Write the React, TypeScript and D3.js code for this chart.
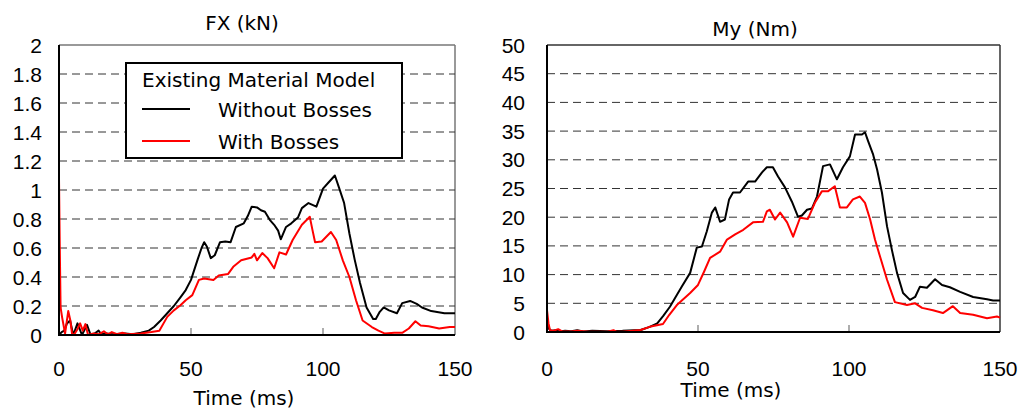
import React, { useEffect, useRef } from "react";
import * as d3 from "d3";

// time (ms), value pairs
const fxWithout: [number, number][] = [
  [0, 0], [1, 0.02], [2, 0.03], [3, 0.08], [4.2, 0.1], [5.4, 0], [7, 0.08], [8.7, 0], [10.6, 0.07], [12, 0],
  [13.5, 0.01], [15, 0.03], [16, 0.005], [18, 0.01], [20, 0.005], [25, 0.01], [28, 0.005], [31, 0.015],
  [34, 0.03], [36, 0.055], [38.5, 0.1], [41, 0.15], [43.5, 0.2], [46, 0.26], [48, 0.31], [50, 0.38],
  [52.5, 0.52], [54, 0.6], [55, 0.64], [56, 0.61], [57.5, 0.53], [59, 0.55], [61, 0.64], [63, 0.645],
  [65, 0.64], [67, 0.745], [70, 0.77], [71.5, 0.82], [73, 0.885], [75, 0.88], [76.5, 0.86], [78, 0.85],
  [80, 0.79], [81.5, 0.76], [83, 0.72], [84, 0.66], [86, 0.745], [88, 0.77], [90.5, 0.81], [92, 0.875],
  [94.5, 0.91], [97.5, 0.885], [100, 1.01], [102, 1.05], [104.5, 1.1], [106, 1.02], [108, 0.91], [110, 0.7],
  [112, 0.52], [114, 0.36], [116.5, 0.19], [119, 0.11], [120, 0.11], [121.5, 0.16], [123, 0.19], [125, 0.17],
  [128, 0.15], [130, 0.22], [133, 0.235], [135.5, 0.215], [137.5, 0.19], [141, 0.165], [146, 0.15], [150, 0.15],
];

const fxWith: [number, number][] = [
  [0, 1.08], [0.3, 0.6], [0.6, 0.19], [1.2, 0.12], [2.3, 0.01], [3.5, 0.165], [4.3, 0.1], [5, 0], [6, 0.01],
  [7, 0.04], [8, 0.08], [9, 0.03], [10, 0.075], [11, 0], [13, 0.01], [15, 0.005], [17, 0.025], [18.5, 0.005],
  [20, 0.02], [22, 0.005], [24, 0.015], [26, 0.005], [31, 0.01], [35, 0.02], [38, 0.03], [41, 0.125],
  [43.5, 0.17], [46, 0.205], [48, 0.24], [50.5, 0.275], [53, 0.38], [55, 0.39], [58.5, 0.38], [60.5, 0.41],
  [64, 0.42], [66, 0.47], [69, 0.515], [73, 0.535], [74, 0.56], [75, 0.515], [77, 0.565], [79, 0.53],
  [81.5, 0.46], [83.5, 0.57], [86, 0.555], [88.5, 0.655], [92, 0.76], [95, 0.815], [96, 0.725], [97, 0.64],
  [99.5, 0.645], [103, 0.71], [105, 0.655], [107.5, 0.515], [110, 0.4], [112.5, 0.24], [115, 0.1],
  [118.5, 0.055], [121, 0.03], [123.5, 0.01], [127, 0.015], [130, 0.015], [132.5, 0.045], [135, 0.095],
  [137, 0.065], [140, 0.06], [144, 0.045], [148, 0.055], [150, 0.055],
];

const myWithout: [number, number][] = [
  [0, 1.5], [0.5, 0.6], [1.5, 0.2], [3, 0.3], [4, 0.1], [6, 0.2], [8, 0.15], [10, 0.3], [12, 0.1], [15, 0.2],
  [20, 0.15], [25, 0.2], [31, 0.35], [34, 0.9], [36.5, 1.5], [38.5, 2.8], [40.7, 4.4], [42.5, 6], [44.6, 7.9],
  [47.4, 10.3], [49.6, 14.7], [51.3, 14.9], [52.9, 17.5], [54.6, 20.8], [55.7, 21.7], [57.3, 19.2],
  [58.9, 19.6], [60.3, 23.1], [61.6, 24.3], [63.9, 24.3], [66.6, 26.2], [68.9, 26.2], [71.2, 27.8],
  [72.8, 28.7], [74.8, 28.7], [76.5, 27.1], [78.8, 25.2], [81.1, 22.7], [83.1, 20.1], [84.4, 20.3],
  [86.1, 21.3], [87.7, 21.5], [89.4, 23.6], [91.4, 28.9], [93.7, 29.2], [96, 26.6], [98, 28.7], [100.3, 30.6],
  [102, 34.4], [104.3, 34.4], [105.3, 34.8], [106.3, 33.3], [108, 30.9], [109.3, 28.3], [110.9, 24.3],
  [112.6, 18.4], [114.2, 14.3], [115.9, 10.3], [117.9, 6.8], [120.2, 5.6], [121.9, 6.1], [123.5, 7.9],
  [125.8, 7.7], [128.5, 9.2], [130.8, 8.2], [133.4, 7.8], [136.8, 7.0], [141.1, 6.1], [145.7, 5.7],
  [147.7, 5.5], [150, 5.5],
];

const myWith: [number, number][] = [
  [0, 3.8], [0.5, 1.5], [1, 0.3], [2, 0.2], [3.7, 0.5], [5, 0.1], [8, 0.1], [10, 0.2], [14, 0.05], [20, 0.05],
  [22, 0.3], [23, 0.05], [25, 0.05], [31, 0.35], [34, 0.9], [38.4, 1.4], [40.5, 3], [43, 4.7], [47.4, 6.8],
  [50, 8.2], [52, 10.5], [54, 12.9], [57.3, 14.0], [59.6, 16.1], [62.3, 17.0], [65, 17.8], [68.2, 19.1],
  [71.5, 19.2], [72.8, 21.0], [73.8, 21.3], [75.5, 19.6], [77.2, 20.8], [79.5, 19.1], [81.5, 16.6],
  [83.8, 19.9], [86.4, 19.7], [88.7, 22.5], [91, 24.5], [93, 24.5], [95.3, 25.4], [97, 21.7], [99.3, 21.7],
  [101.3, 23.1], [103.6, 23.6], [105.3, 22.5], [107, 19.6], [108.6, 16.1], [110.3, 13.1], [112.6, 9.1],
  [115.2, 5.2], [119.2, 4.7], [121.9, 5.0], [124.2, 4.2], [127.8, 3.8], [131.1, 3.3], [134.4, 4.5],
  [136.8, 3.3], [141.1, 3.0], [145.7, 2.4], [149, 2.7], [150, 2.5],
];

const xTicks = [0, 50, 100, 150];
const fxTicks = [0, 0.2, 0.4, 0.6, 0.8, 1, 1.2, 1.4, 1.6, 1.8, 2];
const myTicks = [0, 5, 10, 15, 20, 25, 30, 35, 40, 45, 50];
const legendTitle = "Existing Material Model";
const seriesNames = ["Without Bosses", "With Bosses"];
const colors = ["#000000", "#ff0000"];

const textFont = "'DejaVu Sans', Tahoma, sans-serif";
const tickFont = "'Liberation Sans Narrow', 'Arial Narrow', 'Liberation Sans', sans-serif";

function drawPanel(svg: any, cfg: any) {
  const x = d3.scaleLinear().domain([0, 150]).range([cfg.left, cfg.right]);
  const y = d3.scaleLinear().domain([0, cfg.yMax]).range([cfg.bottom, cfg.top]);
  const g = svg.append("g");

  // frame: top and right lighter
  g.append("line").attr("x1", x(0)).attr("x2", x(150)).attr("y1", y(cfg.yMax)).attr("y2", y(cfg.yMax))
    .attr("stroke", cfg.frameColor).attr("stroke-width", 1.5);
  g.append("line").attr("x1", x(150)).attr("x2", x(150)).attr("y1", y(0)).attr("y2", y(cfg.yMax))
    .attr("stroke", cfg.frameColor).attr("stroke-width", 1.5);

  // dashed grid
  g.selectAll(".grid").data(cfg.yTicks.filter((t: number) => t > 0 && t < cfg.yMax)).join("line")
    .attr("x1", x(0)).attr("x2", x(150))
    .attr("y1", (d: number) => y(d)).attr("y2", (d: number) => y(d))
    .attr("stroke", "#333").attr("stroke-width", 1).attr("stroke-dasharray", "8,5");

  // inner x ticks
  g.selectAll(".xt").data(xTicks.filter(t => t > 0 && t < 150)).join("line")
    .attr("x1", (d: number) => x(d)).attr("x2", (d: number) => x(d))
    .attr("y1", y(0)).attr("y2", y(0) - 7)
    .attr("stroke", "#777").attr("stroke-width", 1.2);

  // legend (drawn before lines? it sits over grid only)
  if (cfg.legend) {
    const lg = g.append("g");
    lg.append("rect").attr("x", 126).attr("y", 63).attr("width", 276).attr("height", 95)
      .attr("fill", "#fff").attr("stroke", "#000").attr("stroke-width", 2);
    lg.append("text").attr("x", 142).attr("y", 87).text(legendTitle)
      .attr("font-family", textFont).attr("font-size", 20).attr("fill", "#000");
    seriesNames.forEach((name, i) => {
      const yy = 109 + i * 32;
      lg.append("line").attr("x1", 142).attr("x2", 190).attr("y1", yy).attr("y2", yy)
        .attr("stroke", colors[i]).attr("stroke-width", 2);
      lg.append("text").attr("x", 218).attr("y", yy + 8).text(name)
        .attr("font-family", textFont).attr("font-size", 20).attr("fill", "#000");
    });
  }

  const line = d3.line<[number, number]>().x(d => x(d[0])).y(d => y(d[1]));
  [cfg.data[0], cfg.data[1]].forEach((s: [number, number][], i: number) => {
    g.append("path").datum(s).attr("d", line).attr("fill", "none")
      .attr("stroke", colors[i]).attr("stroke-width", 2).attr("stroke-linejoin", "round");
  });

  // left and bottom axis lines
  g.append("line").attr("x1", x(0)).attr("x2", x(0)).attr("y1", y(0) + 1).attr("y2", y(cfg.yMax))
    .attr("stroke", "#000").attr("stroke-width", 2);
  g.append("line").attr("x1", x(0)).attr("x2", x(150)).attr("y1", y(0)).attr("y2", y(0))
    .attr("stroke", "#000").attr("stroke-width", 2);

  // y labels
  g.selectAll(".yl").data(cfg.yTicks).join("text")
    .attr("x", cfg.left - cfg.labelGap).attr("y", (d: number) => y(d)).attr("dy", "0.36em")
    .attr("text-anchor", "end").attr("font-family", tickFont).attr("font-size", 21)
    .text((d: number) => String(+d.toFixed(1)));

  // x labels
  g.selectAll(".xl").data(xTicks).join("text")
    .attr("x", (d: number) => x(d)).attr("y", 368).attr("dy", "0.36em")
    .attr("text-anchor", "middle").attr("font-family", tickFont).attr("font-size", 21)
    .text((d: number) => String(d));

  g.append("text").attr("x", cfg.titleX).attr("y", cfg.titleY).attr("text-anchor", "middle")
    .attr("font-family", textFont).attr("font-size", 20).text(cfg.title);
  g.append("text").attr("x", cfg.xLabelX).attr("y", cfg.xLabelY).attr("text-anchor", "middle")
    .attr("font-family", textFont).attr("font-size", 20).text("Time (ms)");
}

export default function App() {
  const ref = useRef<SVGSVGElement>(null);

  useEffect(() => {
    const svg = d3.select(ref.current);
    svg.selectAll("*").remove();
    svg.append("rect").attr("width", 1036).attr("height", 412).attr("fill", "#fff");

    drawPanel(svg, {
      left: 59, right: 455, top: 45, bottom: 335, yMax: 2, yTicks: fxTicks,
      data: [fxWithout, fxWith], legend: true, labelGap: 17, frameColor: "#777",
      title: "FX (kN)", titleX: 242, titleY: 30, xLabelX: 244, xLabelY: 405,
    });
    drawPanel(svg, {
      left: 547, right: 1000, top: 45, bottom: 332, yMax: 50, yTicks: myTicks,
      data: [myWithout, myWith], legend: false, labelGap: 22, frameColor: "#333",
      title: "My (Nm)", titleX: 755, titleY: 36, xLabelX: 731, xLabelY: 397,
    });
  }, []);

  return (
    <svg ref={ref} width={1036} height={412}
      style={{ position: "absolute", left: 0, top: 0, display: "block" }} />
  );
}
